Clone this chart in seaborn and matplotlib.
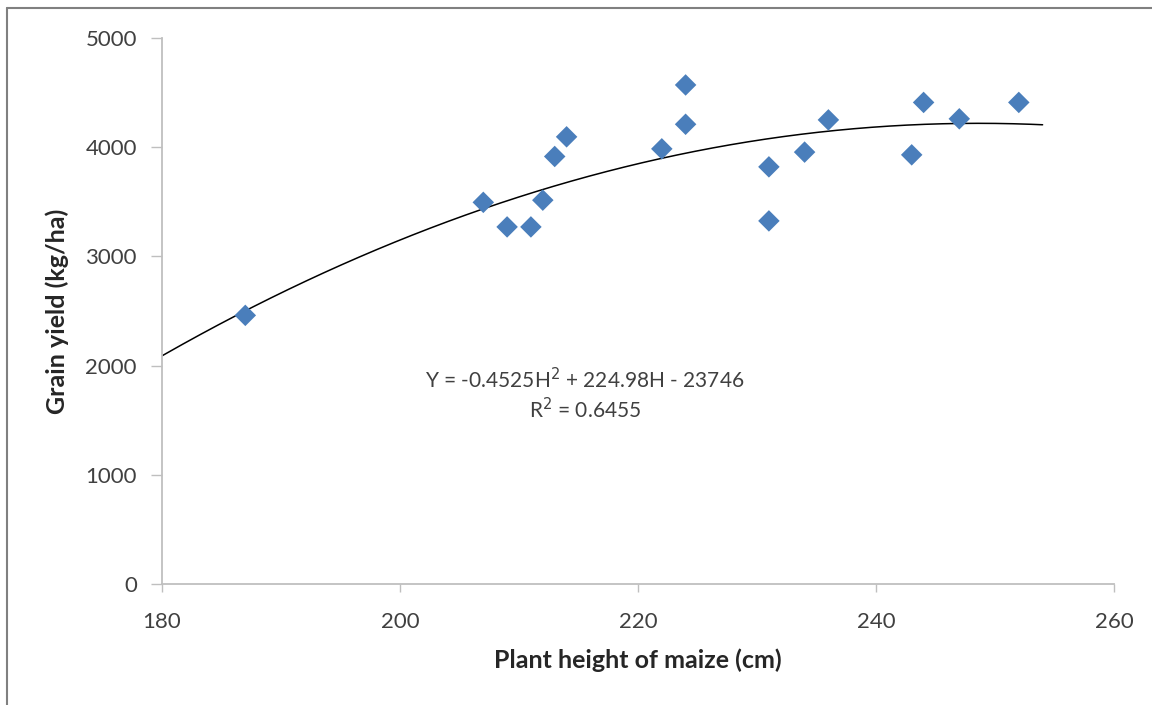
import numpy as np
import pandas as pd
import matplotlib
matplotlib.use("Agg")
import matplotlib.pyplot as plt
import seaborn as sns

# Data
plant_height = [187, 207, 209, 211, 212, 213, 214, 222, 224, 224, 231, 231, 234, 236, 243, 244, 247, 252]
grain_yield = [2460, 3495, 3270, 3270, 3515, 3915, 4095, 3985, 4210, 4570, 3820, 3325, 3955, 4250, 3930, 4410, 4260, 4410]
# Quadratic trend coefficients shown on chart (a, b, c)
trend_coef = [-0.4525, 224.98, -23746]
trend_range = [180, 254]
x_ticks = [180, 200, 220, 240, 260]
y_ticks = [0, 1000, 2000, 3000, 4000, 5000]

sns.set_theme(style="white")
plt.rcParams['font.family'] = ['Lato', 'DejaVu Sans']

fig = plt.figure(figsize=(11.52, 7.05), dpi=100)
ax = fig.add_axes([162/1152, 1-584/705, (1114-162)/1152, (584-38)/705])

df = pd.DataFrame({"H": plant_height, "Y": grain_yield})
hh = np.linspace(trend_range[0], trend_range[1], 300)
trend = pd.DataFrame({"H": hh, "Y": np.polyval(trend_coef, hh)})

sns.lineplot(data=trend, x="H", y="Y", ax=ax, color="black", linewidth=1.1, zorder=2)
sns.scatterplot(data=df, x="H", y="Y", ax=ax, marker="D", s=120, color="#4A7EBB",
                edgecolor="none", zorder=3)

ax.set_xlim(180, 260)
ax.set_ylim(0, 5000)
ax.set_xticks(x_ticks)
ax.set_yticks(y_ticks)

for s in ["top", "right"]:
    ax.spines[s].set_visible(False)
for s in ["left", "bottom"]:
    ax.spines[s].set_color("#BFBFBF")
    ax.spines[s].set_linewidth(1.3)

ax.tick_params(axis="x", bottom=True, direction="out", length=6, width=1, color="#BFBFBF",
               labelsize=16, labelcolor="#404040", pad=14)
ax.tick_params(axis="y", left=True, direction="out", length=8, width=1, color="#BFBFBF",
               labelsize=16, labelcolor="#404040", pad=10)

ax.set_xlabel("Plant height of maize (cm)", fontsize=18, fontweight="bold", color="#262626", labelpad=12)
ax.set_ylabel("Grain yield (kg/ha)", fontsize=18, fontweight="bold", color="#262626", labelpad=12)

fig.text(585/1152, 1-380/705, "Y = -0.4525H$^2$ + 224.98H - 23746", ha="center", va="center",
         fontsize=15, color="#404040")
fig.text(585/1152, 1-410/705, "R$^2$ = 0.6455", ha="center", va="center",
         fontsize=15, color="#404040")

# outer frame (top and left edges as in reference)
fig.add_artist(plt.Line2D([7/1152, 1], [1-8/705, 1-8/705], transform=fig.transFigure, color="#808080", linewidth=1.5))
fig.add_artist(plt.Line2D([7/1152, 7/1152], [0, 1-8/705], transform=fig.transFigure, color="#808080", linewidth=1.5))

fig.savefig("out.png", dpi=100)
